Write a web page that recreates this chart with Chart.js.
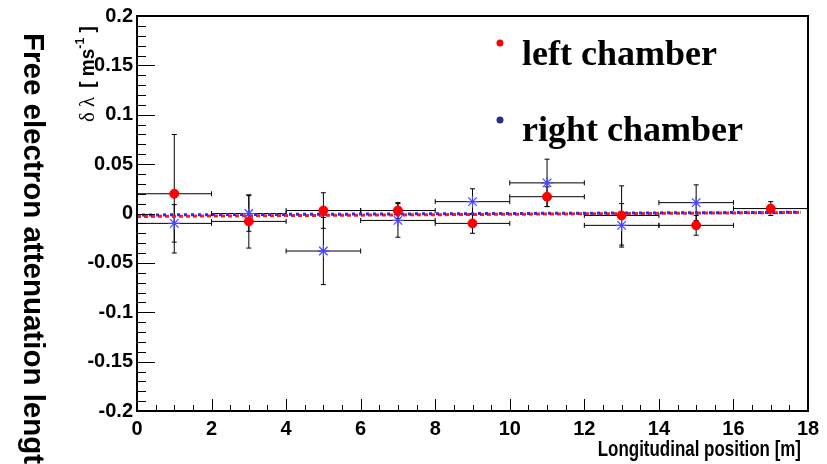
<!DOCTYPE html>
<html><head><meta charset="utf-8">
<script src="https://cdn.jsdelivr.net/npm/chart.js@4.4.1/dist/chart.umd.min.js"></script>
<style>html,body{margin:0;padding:0;background:#fff;}#wrap{width:827px;height:464px;position:relative}</style>
</head><body><div id="wrap"><canvas id="c" width="827" height="464"></canvas></div>
<script>
// ---- data ----
const binCenters   = [1, 3, 5, 7, 9, 11, 13, 15, 17];
const binHalfWidth = [1, 1, 1, 1, 1, 1, 1, 1, 1];
const leftValues   = [0.020, -0.008, 0.003, 0.003, -0.010, 0.017, -0.002, -0.012, 0.005];
const leftErrors   = [0.060, 0.027, 0.018, 0.008, 0.010, 0.010, 0.030, 0.010, 0.007];
const rightCenters = [1, 3, 5, 7, 9, 11, 13, 15];
const rightHalfWidth = [1, 1, 1, 1, 1, 1, 1, 1];
const rightValues  = [-0.010, 0.000, -0.038, -0.007, 0.012, 0.031, -0.012, 0.011];
const rightErrors  = [0.019, 0.018, 0.034, 0.017, 0.013, 0.024, 0.022, 0.018];
const fitX     = [0, 17.8];
const leftFit  = [-0.003, 0.001];
const rightFit = [-0.0015, 0.0012];
const xTicks      = [0, 2, 4, 6, 8, 10, 12, 14, 16, 18];
const xTickLabels = ['0','2','4','6','8','10','12','14','16','18'];
const yTicks      = [-0.2, -0.15, -0.1, -0.05, 0, 0.05, 0.1, 0.15, 0.2];
const yTickLabels = ['-0.2','-0.15','-0.1','-0.05','0','0.05','0.1','0.15','0.2'];
const seriesNames = ['left chamber', 'right chamber'];
const xTitle = 'Longitudinal position [m]';
const yTitleOuter = 'Free electron attenuation length';

const sans = '"Liberation Sans", Arial, sans-serif';
const tickFont = {family: sans, size: 20, weight: 'bold'};

function idxOf(arr, v){ for (let i=0;i<arr.length;i++) if (Math.abs(arr[i]-v)<1e-9) return i; return -1; }

const decorPlugin = {
  id: 'decor',
  beforeDatasetsDraw(chart){
    const ctx = chart.ctx, xs = chart.scales.x, ys = chart.scales.y, a = chart.chartArea;
    ctx.save();
    ctx.beginPath(); ctx.rect(a.left, a.top, a.right-a.left, a.bottom-a.top); ctx.clip();
    ctx.strokeStyle = '#000'; ctx.lineWidth = 1;
    chart.data.datasets.forEach(ds => {
      if (!ds.errY) return;
      ds.data.forEach((p, i) => {
        const px = xs.getPixelForValue(p.x), py = ys.getPixelForValue(p.y);
        const x0 = xs.getPixelForValue(p.x - ds.errX[i]), x1 = xs.getPixelForValue(p.x + ds.errX[i]);
        const y0 = ys.getPixelForValue(p.y - ds.errY[i]), y1 = ys.getPixelForValue(p.y + ds.errY[i]);
        const c = 2.5;
        ctx.beginPath();
        ctx.moveTo(x0, py); ctx.lineTo(x1, py);
        ctx.moveTo(x0, py-c); ctx.lineTo(x0, py+c);
        ctx.moveTo(x1, py-c); ctx.lineTo(x1, py+c);
        ctx.moveTo(px, y0); ctx.lineTo(px, y1);
        ctx.moveTo(px-c, y0); ctx.lineTo(px+c, y0);
        ctx.moveTo(px-c, y1); ctx.lineTo(px+c, y1);
        ctx.stroke();
      });
    });
    ctx.restore();
  },
  afterDraw(chart){
    const ctx = chart.ctx, xs = chart.scales.x, ys = chart.scales.y, a = chart.chartArea;
    ctx.save();
    // frame
    ctx.strokeStyle = '#000'; ctx.lineWidth = 2;
    ctx.strokeRect(a.left, a.top, a.right-a.left, a.bottom-a.top);
    // ticks
    ctx.lineWidth = 1;
    ctx.beginPath();
    for (let k=-20; k<=20; k++){
      const v = k/100, py = Math.round(ys.getPixelForValue(v))+0.5;
      const major = idxOf(yTicks, v) >= 0;
      ctx.moveTo(a.left, py); ctx.lineTo(a.left + (major?18:9), py);
    }
    for (let k=0; k<=36; k++){
      const v = k/2, px = Math.round(xs.getPixelForValue(v))+0.5;
      const major = idxOf(xTicks, v) >= 0;
      ctx.moveTo(px, a.bottom); ctx.lineTo(px, a.bottom - (major?12:6));
    }
    ctx.stroke();
    // legend
    const ds = chart.data.datasets;
    ctx.font = 'bold 36px "Liberation Serif", "Times New Roman", serif';
    ctx.textBaseline = 'alphabetic'; ctx.textAlign = 'left';
    ctx.fillStyle = '#ff0000';
    ctx.beginPath(); ctx.arc(500, 43, 3.5, 0, Math.PI*2); ctx.fill();
    ctx.fillStyle = '#2b2b8c';
    ctx.beginPath(); ctx.arc(500, 120, 3.5, 0, Math.PI*2); ctx.fill();
    ctx.fillStyle = '#000';
    ctx.fillText(ds[0].label, 522, 65);
    ctx.fillText(ds[1].label, 522, 141);
    // x title (condensed)
    ctx.save();
    ctx.translate(801, 456); ctx.scale(0.77, 1);
    ctx.font = 'bold 22px ' + sans;
    ctx.textAlign = 'right';
    ctx.fillText(xTitle, 0, 0);
    ctx.restore();
    // inner y title (condensed along text)
    ctx.save();
    ctx.translate(94, 122); ctx.rotate(-Math.PI/2); ctx.scale(0.95, 1);
    ctx.textAlign = 'left';
    let x = 0;
    ctx.font = '22px "Liberation Serif", serif';
    ctx.fillText('\u03B4 \u03BB', x, 0); x += ctx.measureText('\u03B4 \u03BB ').width + 4;
    ctx.font = 'bold 20px ' + sans;
    ctx.fillText('[ ms', x, 0); x += ctx.measureText('[ ms').width;
    ctx.font = 'bold 13px ' + sans;
    ctx.fillText('-1', x, -10); x += ctx.measureText('-1').width;
    ctx.font = 'bold 20px ' + sans;
    ctx.fillText(' ]', x, 0);
    ctx.restore();
    // outer y title
    ctx.save();
    ctx.translate(24, 33); ctx.rotate(Math.PI/2);
    ctx.textAlign = 'left';
    ctx.font = 'bold 29.5px ' + sans;
    ctx.fillText(yTitleOuter, 0, 0);
    ctx.restore();
    ctx.restore();
  }
};

new Chart(document.getElementById('c'), {
  type: 'scatter',
  data: {
    datasets: [
      { label: seriesNames[0], data: binCenters.map((x,i)=>({x, y:leftValues[i]})),
        errY: leftErrors, errX: binHalfWidth,
        pointStyle: 'circle', pointRadius: 4.5, backgroundColor: '#ff0000', borderColor: '#ff0000', borderWidth: 1, order: 0 },
      { label: seriesNames[1], data: rightCenters.map((x,i)=>({x, y:rightValues[i]})),
        errY: rightErrors, errX: rightHalfWidth,
        pointStyle: 'star', pointRadius: 6, backgroundColor: '#4646ff', borderColor: '#4646ff', borderWidth: 1.2, order: 1 },
      { type: 'line', label: 'left fit', data: fitX.map((x,i)=>({x, y:leftFit[i]})),
        borderColor: '#ff1a1a', borderDash: [4,3], borderWidth: 3, pointRadius: 0, fill: false, order: 3 },
      { type: 'line', label: 'right fit', data: fitX.map((x,i)=>({x, y:rightFit[i]})),
        borderColor: '#2a2aff', borderDash: [3,4], borderDashOffset: 2, borderWidth: 3, pointRadius: 0, fill: false, order: 2 }
    ]
  },
  options: {
    responsive: false, animation: false, events: [],
    layout: { padding: { top: 15, right: 19, left: 0, bottom: 0 } },
    plugins: { legend: { display: false }, tooltip: { enabled: false } },
    scales: {
      x: { type: 'linear', min: 0, max: 18,
        afterBuildTicks: s => { s.ticks = xTicks.map(v => ({value: v})); },
        ticks: { callback: v => xTickLabels[idxOf(xTicks, v)], font: tickFont, color: '#000', padding: 6, maxRotation: 0, autoSkip: false },
        grid: { display: false, drawTicks: false }, border: { display: false },
        afterFit: s => { s.height = 53; } },
      y: { type: 'linear', min: -0.2, max: 0.2,
        afterBuildTicks: s => { s.ticks = yTicks.map(v => ({value: v})); },
        ticks: { callback: v => yTickLabels[idxOf(yTicks, v)], font: tickFont, color: '#000', padding: 4, autoSkip: false },
        grid: { display: false, drawTicks: false }, border: { display: false },
        afterFit: s => { s.width = 137; } }
    }
  },
  plugins: [decorPlugin]
});
</script></body></html>
